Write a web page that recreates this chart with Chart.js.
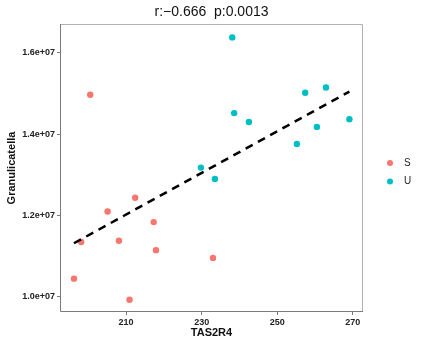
<!DOCTYPE html>
<html>
<head>
<meta charset="utf-8">
<script src="https://cdn.jsdelivr.net/npm/chart.js@4"></script>
<style>
  html, body { margin: 0; padding: 0; background: #fff; }
  #wrap { width: 424px; height: 347px; }
</style>
</head>
<body>
<div id="wrap"><canvas id="grafico" width="424" height="347"></canvas></div>
<script>
// values
const sX = [200.5, 205.1, 212.4, 217.3, 198.1, 208.1, 217.9, 233.0, 196.2, 210.9];
const sY = [1.497e7, 1.210e7, 1.244e7, 1.184e7, 1.135e7, 1.138e7, 1.115e7, 1.096e7, 1.045e7, 0.993e7];
const uX = [238.1, 257.4, 262.9, 238.6, 242.5, 269.1, 260.5, 255.2, 229.8, 233.5];
const uY = [1.638e7, 1.502e7, 1.515e7, 1.452e7, 1.430e7, 1.437e7, 1.418e7, 1.376e7, 1.318e7, 1.290e7];
const xTicks = [210, 230, 250, 270];
const yTicks = [1.0e7, 1.2e7, 1.4e7, 1.6e7];
const groups = ["S", "U"];
const colores = ["#F8766D", "#00BFC4"];
const titulo = "r:\u22120.666  p:0.0013";

const pts = (xs, ys) => xs.map((x, i) => ({ x: x, y: ys[i] }));

// linear fit over all points (like geom_smooth(method = "lm"))
const allX = sX.concat(uX);
const allY = sY.concat(uY);
const n = allX.length;
const mx = allX.reduce((a, b) => a + b, 0) / n;
const my = allY.reduce((a, b) => a + b, 0) / n;
let sxy = 0, sxx = 0;
for (let i = 0; i < n; i++) {
    sxy += (allX[i] - mx) * (allY[i] - my);
    sxx += (allX[i] - mx) * (allX[i] - mx);
}
const slope = sxy / sxx;
const x0 = Math.min(...allX), x1 = Math.max(...allX);
const fitLine = [
    { x: x0, y: my + slope * (x0 - mx) },
    { x: x1, y: my + slope * (x1 - mx) },
];

const fuente = "'Liberation Sans', Arial, sans-serif";

const panelPlugin = {
    id: "panel",
    afterDraw(chart) {
        const { ctx, chartArea: a } = chart;
        ctx.save();
        ctx.lineWidth = 1;
        ctx.strokeStyle = "#b0b0b0";
        ctx.beginPath();
        ctx.moveTo(a.left, a.top + 0.5);
        ctx.lineTo(a.right - 0.5, a.top + 0.5);
        ctx.lineTo(a.right - 0.5, a.bottom);
        ctx.stroke();
        ctx.strokeStyle = "#7a7a7a";
        ctx.beginPath();
        ctx.moveTo(a.left + 0.5, a.top);
        ctx.lineTo(a.left + 0.5, a.bottom - 0.5);
        ctx.lineTo(a.right, a.bottom - 0.5);
        ctx.stroke();

        // title, centred over the panel
        ctx.fillStyle = "#111";
        ctx.font = "14px " + fuente;
        ctx.textAlign = "center";
        ctx.textBaseline = "middle";
        ctx.fillText(titulo, (a.left + a.right) / 2, 12);

        // legend
        ctx.font = "10px " + fuente;
        ctx.textAlign = "left";
        groups.forEach((g, i) => {
            const y = 163 + i * 18.5;
            ctx.fillStyle = colores[i];
            ctx.beginPath();
            ctx.arc(390, y, 3, 0, Math.PI * 2);
            ctx.fill();
            ctx.fillStyle = "#222";
            ctx.fillText(g, 404, y);
        });
        ctx.restore();
    },
};

new Chart(document.getElementById("grafico"), {
    type: "scatter",
    data: {
        datasets: [
            {
                label: groups[0],
                data: pts(sX, sY),
                backgroundColor: colores[0],
                borderWidth: 0,
                pointRadius: 3.2,
                order: 1,
            },
            {
                label: groups[1],
                data: pts(uX, uY),
                backgroundColor: colores[1],
                borderWidth: 0,
                pointRadius: 3.2,
                order: 1,
            },
            {
                type: "line",
                label: "fit",
                data: fitLine,
                borderColor: "#000",
                borderWidth: 2.5,
                borderDash: [8, 6],
                pointRadius: 0,
                fill: false,
                order: 0,
            },
        ],
    },
    options: {
        responsive: false,
        animation: false,
        layout: { padding: { left: 0, right: 61, top: 24, bottom: 0 } },
        plugins: {
            legend: { display: false },
            tooltip: { enabled: false },
            title: { display: false },
        },
        scales: {
            x: {
                type: "linear",
                min: 192.5,
                max: 272.7,
                afterBuildTicks(scale) {
                    scale.ticks = xTicks.map((v) => ({ value: v }));
                },
                afterFit(scale) { scale.height = 35; },
                grid: { drawOnChartArea: false, drawTicks: true, tickLength: 3, color: "#7a7a7a" },
                border: { display: false },
                ticks: {
                    color: "#222",
                    padding: 2,
                    font: { family: fuente, size: 9, weight: "bold" },
                },
                title: {
                    display: true,
                    text: "TAS2R4",
                    color: "#111",
                    font: { family: fuente, size: 11, weight: "bold", lineHeight: 1.2 },
                    padding: { top: 0, bottom: 7.8 },
                },
            },
            y: {
                type: "linear",
                min: 9.63e6,
                max: 1.671e7,
                afterBuildTicks(scale) {
                    scale.ticks = yTicks.map((v) => ({ value: v }));
                },
                afterFit(scale) { scale.width = 60; },
                grid: { drawOnChartArea: false, drawTicks: true, tickLength: 3, color: "#7a7a7a" },
                border: { display: false },
                ticks: {
                    color: "#222",
                    padding: 2,
                    font: { family: fuente, size: 9, weight: "bold" },
                    callback: (v) => {
                        const e = Math.floor(Math.log10(v));
                        return (v / Math.pow(10, e)).toFixed(1) + "e+" + String(e).padStart(2, "0");
                    },
                },
                title: {
                    display: true,
                    text: "Granulicatella",
                    color: "#111",
                    font: { family: fuente, size: 11, weight: "bold", lineHeight: 1.2 },
                    padding: { top: 5.4, bottom: 0 },
                },
            },
        },
    },
    plugins: [panelPlugin],
});
</script>
</body>
</html>
